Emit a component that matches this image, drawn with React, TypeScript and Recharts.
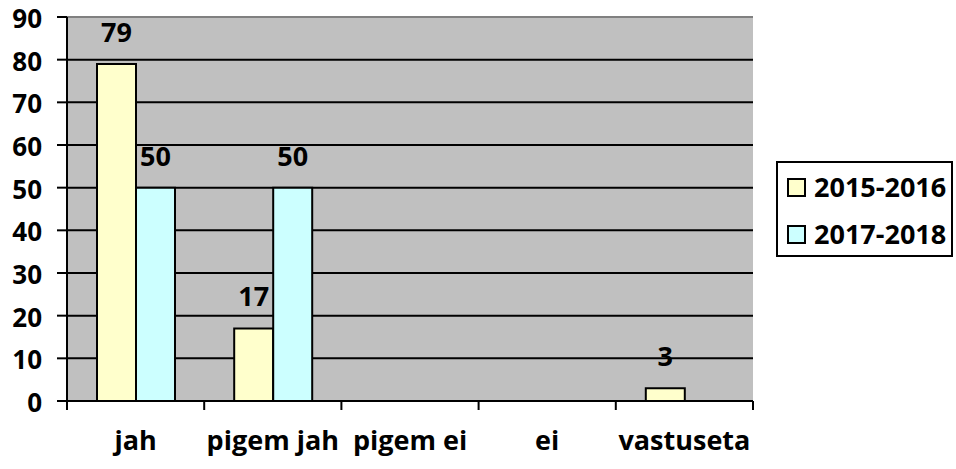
import React from 'react';
import { BarChart, Bar, XAxis, YAxis, CartesianGrid, LabelList, ReferenceLine } from 'recharts';

const categories = ['jah', 'pigem jah', 'pigem ei', 'ei', 'vastuseta'];
const series2015 = [79, 17, 0, 0, 3];
const series2017 = [50, 50, 0, 0, 0];
const yTicks = [0, 10, 20, 30, 40, 50, 60, 70, 80, 90];
const seriesNames = ['2015-2016', '2017-2018'];
const seriesColors = ['#FFFFCC', '#CCFFFF'];

const data = categories.map((c, i) => ({ name: c, a: series2015[i], b: series2017[i] }));

const FONT = '"Open Sans", sans-serif';
const FS = 27;

const XTick = (props: any) => {
  const { x, payload, index } = props;
  const band = 686 / categories.length;
  const left = x - band / 2;
  return (
    <g>
      <line x1={left} y1={401} x2={left} y2={410} stroke="#000" strokeWidth={2} />
      {index === categories.length - 1 && (
        <line x1={x + band / 2} y1={401} x2={x + band / 2} y2={410} stroke="#000" strokeWidth={2} />
      )}
      <text x={x} y={450} textAnchor="middle" fontFamily={FONT} fontWeight="bold" fontSize={FS} fill="#000">
        {payload.value}
      </text>
    </g>
  );
};

const YTick = (props: any) => {
  const { x, y, payload } = props;
  return (
    <text x={x} y={y + 11} textAnchor="end" fontFamily={FONT} fontWeight="bold" fontSize={26} fill="#000">
      {payload.value}
    </text>
  );
};

const LegendBox = () => (
  <div
    style={{
      position: 'absolute',
      left: 776,
      top: 161,
      width: 177,
      height: 96,
      boxSizing: 'border-box',
      border: '2px solid #000',
      background: '#fff',
      fontFamily: FONT,
      fontWeight: 'bold',
      fontSize: FS,
    }}
  >
    {seriesNames.map((n, i) => (
      <div key={n} style={{ position: 'absolute', left: 9, top: 13 + i * 47, height: 22, display: 'flex', alignItems: 'center' }}>
        <div style={{ width: 15, height: 15, border: '2px solid #000', background: seriesColors[i], marginRight: 8, flexShrink: 0 }} />
        <span style={{ lineHeight: '22px', color: '#000', whiteSpace: 'nowrap' }}>{n}</span>
      </div>
    ))}
  </div>
);

const fmt = (v: any) => (v ? v : '');

export default function App() {
  return (
    <div style={{ position: 'absolute', left: 0, top: 0, width: 956, height: 469, background: '#fff' }}>
      <BarChart
        width={956}
        height={469}
        data={data}
        margin={{ top: 17, right: 203, bottom: 8, left: 7 }}
        barSize={39}
        barGap={0}
      >
        <CartesianGrid
          vertical={false}
          horizontalValues={[10, 20, 30, 40, 50, 60, 70, 80]}
          stroke="#000"
          strokeWidth={2}
          fill="#C0C0C0"
          fillOpacity={1}
        />
        <ReferenceLine y={90} stroke="#808080" strokeWidth={2} />
        <XAxis
          dataKey="name"
          height={60}
          axisLine={{ stroke: '#000', strokeWidth: 2 }}
          tickLine={false}
          tick={<XTick />}
          interval={0}
        />
        <YAxis
          width={60}
          domain={[0, 90]}
          ticks={yTicks}
          interval={0}
          axisLine={{ stroke: '#000', strokeWidth: 2 }}
          tickLine={{ stroke: '#000', strokeWidth: 2 }}
          tickSize={10}
          tickMargin={15}
          tick={<YTick />}
        />
        <Bar dataKey="a" name={seriesNames[0]} fill={seriesColors[0]} stroke="#000" strokeWidth={2} isAnimationActive={false}>
          <LabelList dataKey="a" position="top" offset={22} formatter={fmt} fill="#000" fontFamily={FONT} fontWeight="bold" fontSize={FS} />
        </Bar>
        <Bar dataKey="b" name={seriesNames[1]} fill={seriesColors[1]} stroke="#000" strokeWidth={2} isAnimationActive={false}>
          <LabelList dataKey="b" position="top" offset={22} formatter={fmt} fill="#000" fontFamily={FONT} fontWeight="bold" fontSize={FS} />
        </Bar>
      </BarChart>
      <LegendBox />
    </div>
  );
}
